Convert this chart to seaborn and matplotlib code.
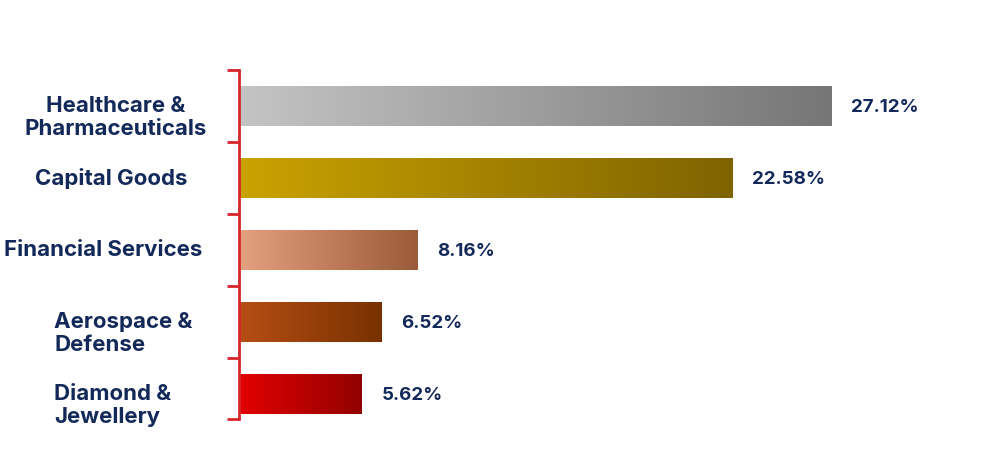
import numpy as np
import pandas as pd
import seaborn as sns
import matplotlib.pyplot as plt
import matplotlib.transforms as mtransforms
from matplotlib.colors import LinearSegmentedColormap

sns.set_style("white")
plt.rcParams['font.family'] = ['Inter', 'DejaVu Sans']

# Data
sectors = ['Healthcare &\nPharmaceuticals', 'Capital Goods', 'Financial Services',
           'Aerospace &\nDefense', 'Diamond &\nJewellery']
shares = [27.12, 22.58, 8.16, 6.52, 5.62]
value_labels = ['27.12%', '22.58%', '8.16%', '6.52%', '5.62%']

# gradient colours (left -> right) per bar
grad_left = ['#c4c4c4', '#caa300', '#e4a17f', '#b64e15', '#e20000']
grad_right = ['#767676', '#7f6300', '#9b5a39', '#783100', '#920000']

# label layout: (figure x, alignment, y shift)
label_pos = [(0.117, 'center', 0.16), (0.112, 'center', 0.0), (0.1045, 'center', 0.0),
             (0.055, 'left', 0.16), (0.055, 'left', 0.16)]

navy = '#13295a'
red = '#d6262c'

df = pd.DataFrame({'sector': sectors, 'share': shares})

fig = plt.figure(figsize=(9.9, 4.54), dpi=100)
ax = fig.add_axes([239 / 990, 1 - 430 / 454, 721 / 990, 360 / 454])

sns.barplot(data=df, y='sector', x='share', ax=ax, color='white', width=0.56,
            orient='h', linewidth=0)

ax.set_xlim(0, 33.0)
ax.set_ylim(4.5, -0.5)

# gradient fill clipped to each bar
grad = np.linspace(0, 1, 256).reshape(1, -1)
for i, patch in enumerate(ax.patches):
    x0, y0 = patch.get_x(), patch.get_y()
    w, h = patch.get_width(), patch.get_height()
    cmap = LinearSegmentedColormap.from_list(f'g{i}', [grad_left[i], grad_right[i]])
    im = ax.imshow(grad, cmap=cmap, extent=[x0, x0 + w, y0 + h, y0],
                   aspect='auto', zorder=2)
    im.set_clip_path(patch)
    ax.text(x0 + w + 0.9, i + 0.02, value_labels[i], va='center', ha='left',
            fontsize=13.5, fontweight='bold', color=navy)

ax.set_xlim(0, 33.0)
ax.set_ylim(4.5, -0.5)

# category labels
trans = mtransforms.blended_transform_factory(fig.transFigure, ax.transData)
for i, name in enumerate(sectors):
    xf, ha, dy = label_pos[i]
    ax.text(xf, i + dy, name, transform=trans, ha=ha, va='center', multialignment=ha,
            fontsize=16, fontweight='bold', color=navy, linespacing=1.2)

# axis styling: red bracket line with boundary ticks
for s in ['top', 'right', 'bottom']:
    ax.spines[s].set_visible(False)
ax.spines['left'].set_color(red)
ax.spines['left'].set_linewidth(2)
ax.spines['left'].set_bounds(4.35, -0.5)
ax.set_yticks([])
ax.set_yticks([-0.5, 0.5, 1.5, 2.5, 3.5, 4.35], minor=True)
ax.tick_params(axis='y', which='minor', length=9, width=2, color=red, left=True)
ax.set_xticks([])
ax.set_xlabel('')
ax.set_ylabel('')

fig.savefig('out.png', dpi=100)
